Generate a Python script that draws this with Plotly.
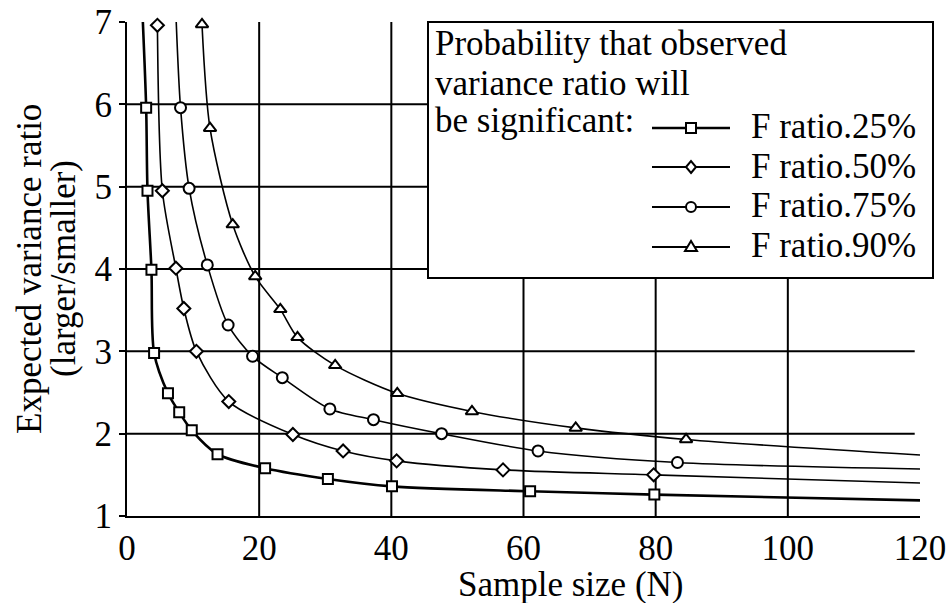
import plotly.graph_objects as go

# ---------------- data ----------------
x_tick_vals = [0, 20, 40, 60, 80, 100, 120]
y_tick_vals = [1, 2, 3, 4, 5, 6, 7]
x_grid = [20, 40, 60, 80, 100]
y_grid = [2, 3, 4, 5, 6]

series_names = ["F ratio.25%", "F ratio.50%", "F ratio.75%", "F ratio.90%"]

x_25 = [2.9, 3.1, 3.7, 4.1, 6.2, 7.9, 9.8, 13.7, 20.9, 30.4, 40.1, 61.0, 79.8]
y_25 = [5.96, 4.95, 3.99, 2.98, 2.49, 2.26, 2.04, 1.75, 1.58, 1.45, 1.36, 1.30, 1.26]
x_50 = [4.6, 5.35, 7.4, 8.6, 10.5, 15.4, 25.1, 32.7, 40.8, 56.9, 79.7]
y_50 = [6.96, 4.95, 4.01, 3.52, 3.0, 2.39, 1.99, 1.79, 1.67, 1.56, 1.50]
x_75 = [8.1, 9.4, 12.15, 15.3, 19.0, 23.5, 30.7, 37.3, 47.6, 62.2, 83.3]
y_75 = [5.96, 4.98, 4.05, 3.32, 2.94, 2.68, 2.30, 2.17, 2.0, 1.79, 1.65]
x_90 = [11.35, 12.56, 16.0, 19.4, 23.2, 25.8, 31.5, 40.9, 52.2, 67.9, 84.6]
y_90 = [6.97, 5.71, 4.54, 3.91, 3.51, 3.17, 2.83, 2.49, 2.27, 2.07, 1.93]

# curve continuation (line only, no marker): start above the markers, end at N=120
start_25 = (2.4, 7.0)
start_75 = (7.45, 7.0)
end_x = 120
end_y = [1.19, 1.40, 1.57, 1.74]

legend_title_lines = ["Probability that observed", "variance ratio will", "be significant:"]
y_title_lines = ["Expected variance ratio", "(larger/smaller)"]
x_title = "Sample size (N)"

# ---------------- figure ----------------
FONT = "Liberation Serif"
FS = 35
PLOT_L, PLOT_R, PLOT_T, PLOT_B = 127, 920, 22, 516  # target plot box on screen
PW = PLOT_R - PLOT_L
PH = PLOT_B - PLOT_T
W, H = 948, 603
L = PLOT_L
T = PLOT_T
R = W - L - PW
B = H - T - PH


def px_x(p):
    return (p - PLOT_L) / PW


def px_y(p):
    return (PLOT_B - p) / PH


symbols = ["square", "diamond", "circle", "triangle-up"]
marker_sizes = [10, 10, 11, 11]
line_widths = [2.6, 1.6, 1.6, 1.6]

line_x = [
    [start_25[0]] + x_25 + [end_x],
    x_50 + [end_x],
    [start_75[0]] + x_75 + [end_x],
    x_90 + [end_x],
]
line_y = [
    [start_25[1]] + y_25 + [end_y[0]],
    y_50 + [end_y[1]],
    [start_75[1]] + y_75 + [end_y[2]],
    y_90 + [end_y[3]],
]
mk_x = [x_25, x_50, x_75, x_90]
mk_y = [y_25, y_50, y_75, y_90]

fig = go.Figure()
for i in range(4):
    fig.add_trace(go.Scatter(
        x=line_x[i], y=line_y[i], mode="lines",
        line=dict(color="black", width=line_widths[i], shape="spline", smoothing=0.8),
        showlegend=False, hoverinfo="skip", name=series_names[i],
    ))
for i in range(4):
    fig.add_trace(go.Scatter(
        x=mk_x[i], y=mk_y[i], mode="markers",
        marker=dict(symbol=symbols[i], size=marker_sizes[i], color="white",
                    line=dict(color="black", width=2)),
        cliponaxis=False, showlegend=False, name=series_names[i],
    ))

shapes = []
# grid lines
for gx in x_grid:
    shapes.append(dict(type="line", xref="x", yref="y", x0=gx, x1=gx, y0=1, y1=7,
                       line=dict(color="black", width=2), layer="below"))
for gy in y_grid:
    shapes.append(dict(type="line", xref="x", yref="y", x0=0, x1=119.2, y0=gy, y1=gy,
                       line=dict(color="black", width=2), layer="below"))

# legend box
box_l, box_r, box_t, box_b = 428, 933, 22, 278
shapes.append(dict(type="rect", xref="paper", yref="paper",
                   x0=px_x(box_l), x1=px_x(box_r), y0=px_y(box_b), y1=px_y(box_t),
                   fillcolor="white", line=dict(color="black", width=2), layer="above"))

entry_y = [128, 167, 207, 247]
line_l, line_r, mk_cx = 652, 730, 691
for i in range(4):
    yy = px_y(entry_y[i])
    shapes.append(dict(type="line", xref="paper", yref="paper",
                       x0=px_x(line_l), x1=px_x(line_r), y0=yy, y1=yy,
                       line=dict(color="black", width=line_widths[i] if i == 0 else 2), layer="above"))
    common = dict(xref="paper", yref="paper", xsizemode="pixel", ysizemode="pixel",
                  xanchor=px_x(mk_cx), yanchor=yy, fillcolor="white",
                  line=dict(color="black", width=2), layer="above")
    if i == 0:
        shapes.append(dict(type="rect", x0=-5, x1=5, y0=-5, y1=5, **common))
    elif i == 1:
        shapes.append(dict(type="path", path="M0,-6 L5,0 L0,6 L-5,0 Z", **common))
    elif i == 2:
        shapes.append(dict(type="circle", x0=-5, x1=5, y0=-5, y1=5, **common))
    else:
        shapes.append(dict(type="path", path="M-6,-4 L6,-4 L0,6 Z", **common))

tfont = dict(family=FONT, size=FS, color="black")
annotations = []
title_y = [43, 83, 121]
for t, yy in zip(legend_title_lines, title_y):
    annotations.append(dict(text=t, xref="paper", yref="paper", x=px_x(433), y=px_y(yy),
                            xanchor="left", yanchor="middle", showarrow=False, font=tfont))
entry_text_y = [126, 166, 206, 246]
for t, yy in zip(series_names, entry_text_y):
    annotations.append(dict(text=t, xref="paper", yref="paper", x=px_x(749), y=px_y(yy),
                            xanchor="left", yanchor="middle", showarrow=False, font=tfont))
# y-axis title (two tightly spaced lines)
for t, xx in zip(y_title_lines, [29, 63]):
    annotations.append(dict(text=t, xref="paper", yref="paper", x=px_x(xx), y=0.5,
                            xanchor="center", yanchor="middle", textangle=-90,
                            showarrow=False, font=tfont))
# x-axis title
annotations.append(dict(text=x_title, xref="paper", yref="paper", x=px_x(570), y=px_y(584),
                        xanchor="center", yanchor="middle", showarrow=False, font=tfont))

fig.update_layout(
    width=W, height=H,
    margin=dict(l=L, r=R, t=T, b=B, pad=0, autoexpand=False),
    paper_bgcolor="white", plot_bgcolor="white",
    font=tfont,
    shapes=shapes, annotations=annotations,
    showlegend=False,
)
fig.update_xaxes(
    range=[0, 120], tickvals=x_tick_vals, ticktext=[str(v) for v in x_tick_vals],
    showgrid=False, zeroline=False, showline=True, linecolor="black", linewidth=2,
    ticks="", tickfont=tfont, automargin=False, ticklabeloverflow="allow",
)
fig.update_yaxes(
    range=[1, 7], tickvals=y_tick_vals, ticktext=[str(v) for v in y_tick_vals],
    showgrid=False, zeroline=False, showline=True, linecolor="black", linewidth=2,
    ticks="outside", ticklen=6, tickwidth=2, tickcolor="black",
    tickfont=tfont, automargin=False, ticklabeloverflow="allow",
)

fig.write_html(
    "out.html",
    config={"displayModeBar": False},
    post_script="document.body.style.margin='0';document.body.style.overflow='hidden';",
)
